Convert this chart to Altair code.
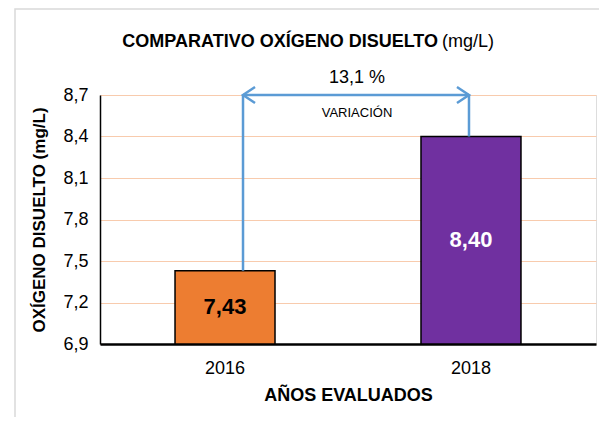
import altair as alt
import pandas as pd

years = ["2016", "2018"]
values = [7.43, 8.40]
labels = ["7,43", "8,40"]
colors = ["#ED7D31", "#7030A0"]
label_colors = ["#000000", "#FFFFFF"]
y_ticks = [6.9, 7.2, 7.5, 7.8, 8.1, 8.4, 8.7]
title_main = "COMPARATIVO OXÍGENO DISUELTO"
title_unit = "(mg/L)"
variation_text = "13,1 %"
variation_label = "VARIACIÓN"

df = pd.DataFrame({
    "year": years,
    "value": values,
    "label": labels,
    "color": colors,
    "lcolor": label_colors,
    "base": [y_ticks[0]] * len(years),
})
df["mid"] = (df["value"] + df["base"]) / 2
one = df[df.year == years[0]]

FONT = "Liberation Sans, Arial, sans-serif"
BLUE = "#5B9BD5"

x_scale = alt.Scale(domain=years, paddingInner=0.5935, paddingOuter=0.305)
y_scale = alt.Scale(domain=[y_ticks[0], y_ticks[-1]], zero=False, nice=False)

base = alt.Chart(df)

frame = alt.Chart(one).mark_rect(fill=None, stroke="#D9D9D9", strokeWidth=1.5, clip=False).encode(
    x=alt.value(-85), x2=alt.value(540), y=alt.value(-86), y2=alt.value(340)
)

title_a = alt.Chart(one).mark_text(
    font=FONT, fontSize=18, fontWeight="bold", color="#000000", baseline="middle", align="right"
).encode(x=alt.value(338), y=alt.value(-53), text=alt.value(title_main))
title_b = alt.Chart(one).mark_text(
    font=FONT, fontSize=18, color="#000000", baseline="middle", align="left"
).encode(x=alt.value(342), y=alt.value(-53), text=alt.value(title_unit))

bars = base.mark_bar(stroke="#000000", strokeWidth=1.5).encode(
    x=alt.X("year:N", scale=x_scale,
            axis=alt.Axis(title="AÑOS EVALUADOS", labelAngle=0, labelFont=FONT,
                          labelFontSize=18, labelColor="#000000", labelPadding=15,
                          titleFont=FONT, titleFontSize=18, titleFontWeight="bold",
                          titleColor="#000000", titlePadding=9, ticks=False,
                          domainColor="#000000", domainWidth=2.5)),
    y=alt.Y("value:Q", scale=y_scale,
            axis=alt.Axis(values=y_ticks, title="OXÍGENO DISUELTO (mg/L)",
                          labelExpr="replace(format(datum.value, '.1f'), '.', ',')",
                          labelFont=FONT, labelFontSize=18, labelColor="#000000",
                          labelPadding=12, ticks=False,
                          titleFont=FONT, titleFontSize=17,
                          titleFontWeight="bold", titleColor="#000000", titlePadding=14,
                          domainColor="#000000", domainWidth=1.5,
                          grid=True, gridColor="#F8CBAD", gridWidth=1)),
    y2="base:Q",
    fill=alt.Color("color:N", scale=None),
)

bar_text = base.mark_text(font=FONT, fontSize=22, fontWeight="bold").encode(
    x="year:N", y="mid:Q", text="label:N", color=alt.Color("lcolor:N", scale=None)
)

vline1 = alt.Chart(one).mark_rule(color=BLUE, strokeWidth=2.5, xOffset=18).encode(
    x="year:N", y="value:Q", y2=alt.datum(y_ticks[-1])
)
vline2 = alt.Chart(df[df.year == years[1]]).mark_rule(color=BLUE, strokeWidth=2.5, xOffset=-2).encode(
    x="year:N", y="value:Q", y2=alt.datum(y_ticks[-1])
)
hline = alt.Chart(one).mark_rule(color=BLUE, strokeWidth=2.5, xOffset=18, x2Offset=-2).encode(
    x=alt.datum(years[0]), x2=alt.datum(years[1]), y=alt.datum(y_ticks[-1])
)
head_left = alt.Chart(one).mark_point(
    shape="M1.5,-1L0,0L1.5,1", filled=False, stroke=BLUE, strokeWidth=2.5, size=256,
    xOffset=18, opacity=1
).encode(x=alt.datum(years[0]), y=alt.datum(y_ticks[-1]))
head_right = alt.Chart(one).mark_point(
    shape="M-1.5,-1L0,0L-1.5,1", filled=False, stroke=BLUE, strokeWidth=2.5, size=256,
    xOffset=-2, opacity=1
).encode(x=alt.datum(years[1]), y=alt.datum(y_ticks[-1]))

pct_text = alt.Chart(one).mark_text(
    font=FONT, fontSize=18, color="#000000", dy=-17, dx=132
).encode(x=alt.datum(years[0]), y=alt.datum(y_ticks[-1]), text=alt.value(variation_text))

var_text = alt.Chart(one).mark_text(
    font=FONT, fontSize=13, color="#000000", dy=18, dx=132
).encode(x=alt.datum(years[0]), y=alt.datum(y_ticks[-1]), text=alt.value(variation_label))

chart = alt.layer(
    frame, title_a, title_b, bars, bar_text, vline1, vline2, hline, head_left, head_right,
    pct_text, var_text
).properties(
    width=496, height=249,
    autosize=alt.AutoSizeParams(type="none"),
    padding={"left": 92, "top": 87, "right": 3, "bottom": 73},
).configure_view(stroke=None).configure(background="#FFFFFF")

chart.save("out.html", embed_options={"renderer": "svg", "actions": False})
